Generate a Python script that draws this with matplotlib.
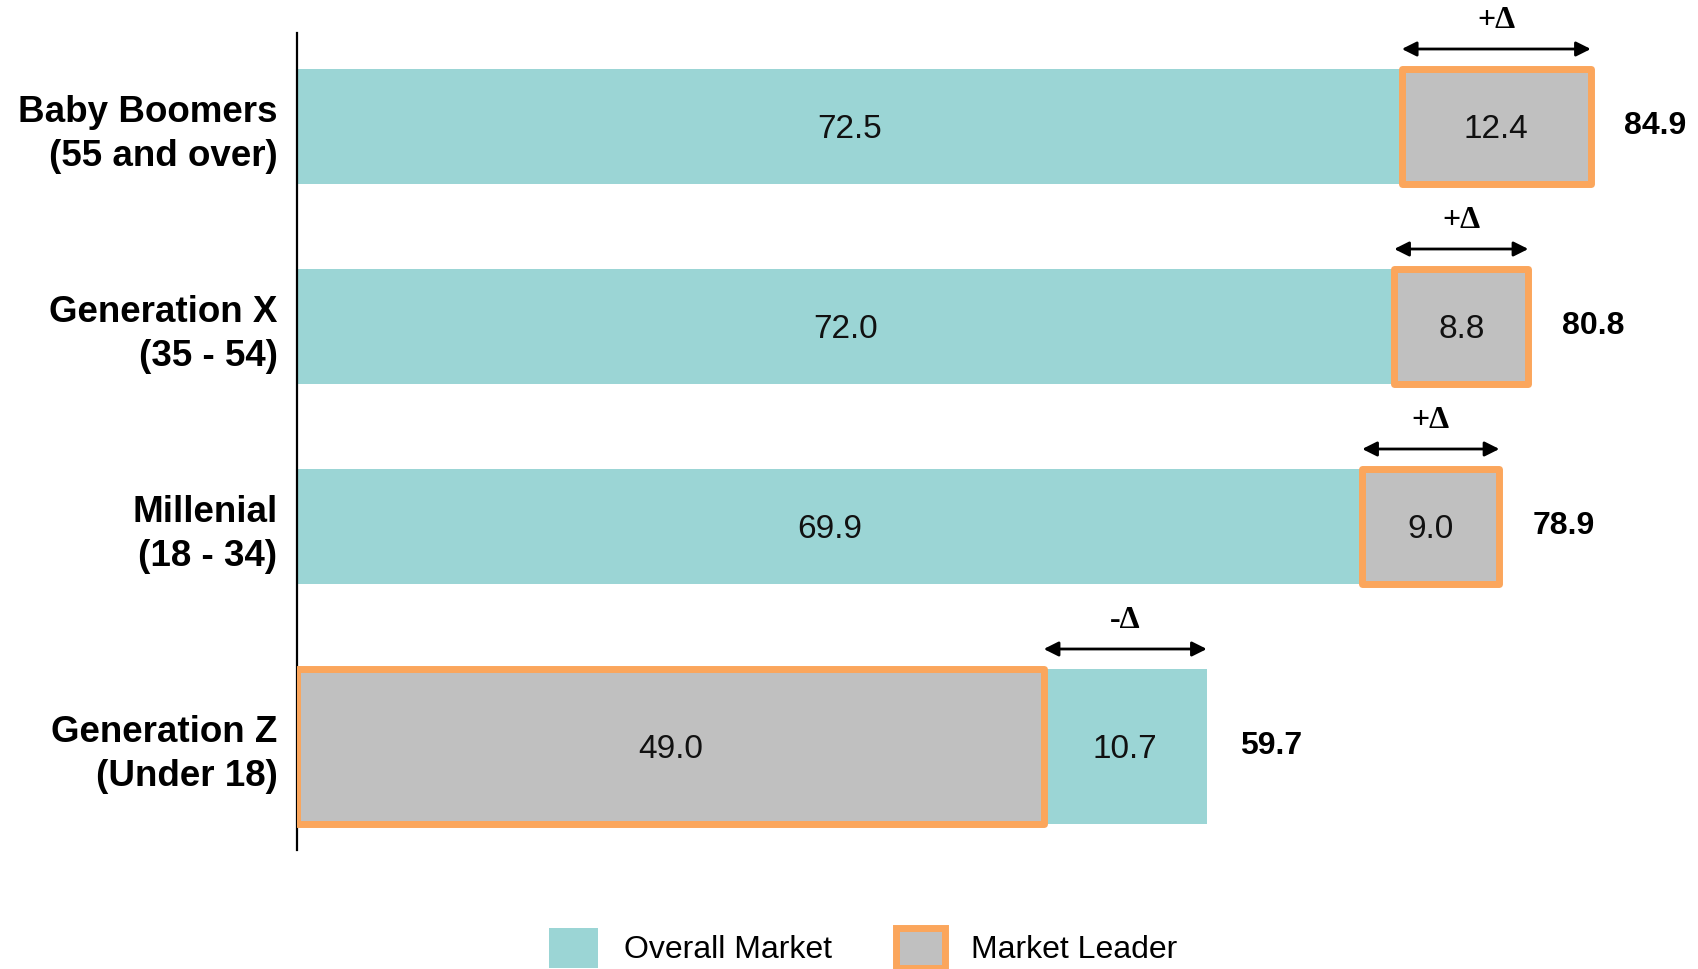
import matplotlib
matplotlib.use("Agg")
import matplotlib.pyplot as plt
from matplotlib.patches import Patch

plt.rcParams['font.family'] = ['Liberation Sans', 'DejaVu Sans']

# data
groups = ['Baby Boomers\n(55 and over)', 'Generation X\n(35 - 54)',
          'Millenial\n(18 - 34)', 'Generation Z\n(Under 18)']
overall = [72.5, 72.0, 69.9, 10.7]
leader = [12.4, 8.8, 9.0, 49.0]
totals = [84.9, 80.8, 78.9, 59.7]
delta_labels = ['+\u0394', '+\u0394', '+\u0394', '-\u0394']
leader_first = [False, False, False, True]   # Gen Z: leader bar drawn first

TEAL = '#9BD5D5'
GRAY = '#C0C0C0'
ORANGE = '#FBA65C'

ypos = [0, 1, 2, 3.1]
heights = [0.575, 0.575, 0.575, 0.775]

fig = plt.figure(figsize=(16.99, 9.69), dpi=100)
ax = fig.add_axes([297 / 1699, 1 - 850 / 969, 1 - 297 / 1699, 817 / 969])

for i in range(len(groups)):
    y, h = ypos[i], heights[i]
    if leader_first[i]:
        segs = [(0, leader[i], 'L'), (leader[i], overall[i], 'O')]
    else:
        segs = [(0, overall[i], 'O'), (overall[i], leader[i], 'L')]
    for left, w, kind in segs:
        if kind == 'O':
            ax.barh(y, w, left=left, height=h, color=TEAL, edgecolor='none', zorder=2)
        else:
            ax.barh(y, w, left=left, height=h, color=GRAY, edgecolor=ORANGE,
                    linewidth=5, joinstyle='round', zorder=3)
        ax.text(left + w / 2, y + 0.015, f'{w:.1f}', ha='center', va='center',
                fontsize=24, color='#111111', zorder=4)

    # delta arrow over the second segment
    a0, aw = segs[1][0], segs[1][1]
    top = y - h / 2
    ax.annotate('', xy=(a0, top - 0.1), xytext=(a0 + aw, top - 0.1),
                arrowprops=dict(arrowstyle='<|-|>', color='black', lw=2,
                                mutation_scale=22, shrinkA=0, shrinkB=0))
    ax.text(a0 + aw / 2, top - 0.24, delta_labels[i], ha='center', va='center',
            fontsize=23, fontweight='bold', family='Liberation Serif')

    ax.text(totals[i] + 2.2, y, f'{totals[i]:.1f}', ha='left', va='center',
            fontsize=23, fontweight='bold')

ax.set_xlim(0, 92)
ax.set_ylim(3.6175, -0.4675)
ax.set_yticks(ypos)
ax.set_yticklabels(groups, fontsize=26.5, fontweight='bold', ha='right',
                   linespacing=1.3)
ax.tick_params(axis='y', length=0, pad=14)
ax.set_xticks([])
for s in ['top', 'right', 'bottom']:
    ax.spines[s].set_visible(False)
ax.spines['left'].set_linewidth(1.6)

handles = [Patch(facecolor=TEAL, edgecolor='none', label='Overall Market'),
           Patch(facecolor=GRAY, edgecolor=ORANGE, linewidth=5, label='Market Leader')]
fig.legend(handles=handles, loc='center', bbox_to_anchor=(0.508, 0.022), ncol=2,
           frameon=False, fontsize=23, handlelength=1.55, handleheight=1.55,
           handletextpad=0.8, columnspacing=2.0)

fig.savefig('out.png', dpi=100)
